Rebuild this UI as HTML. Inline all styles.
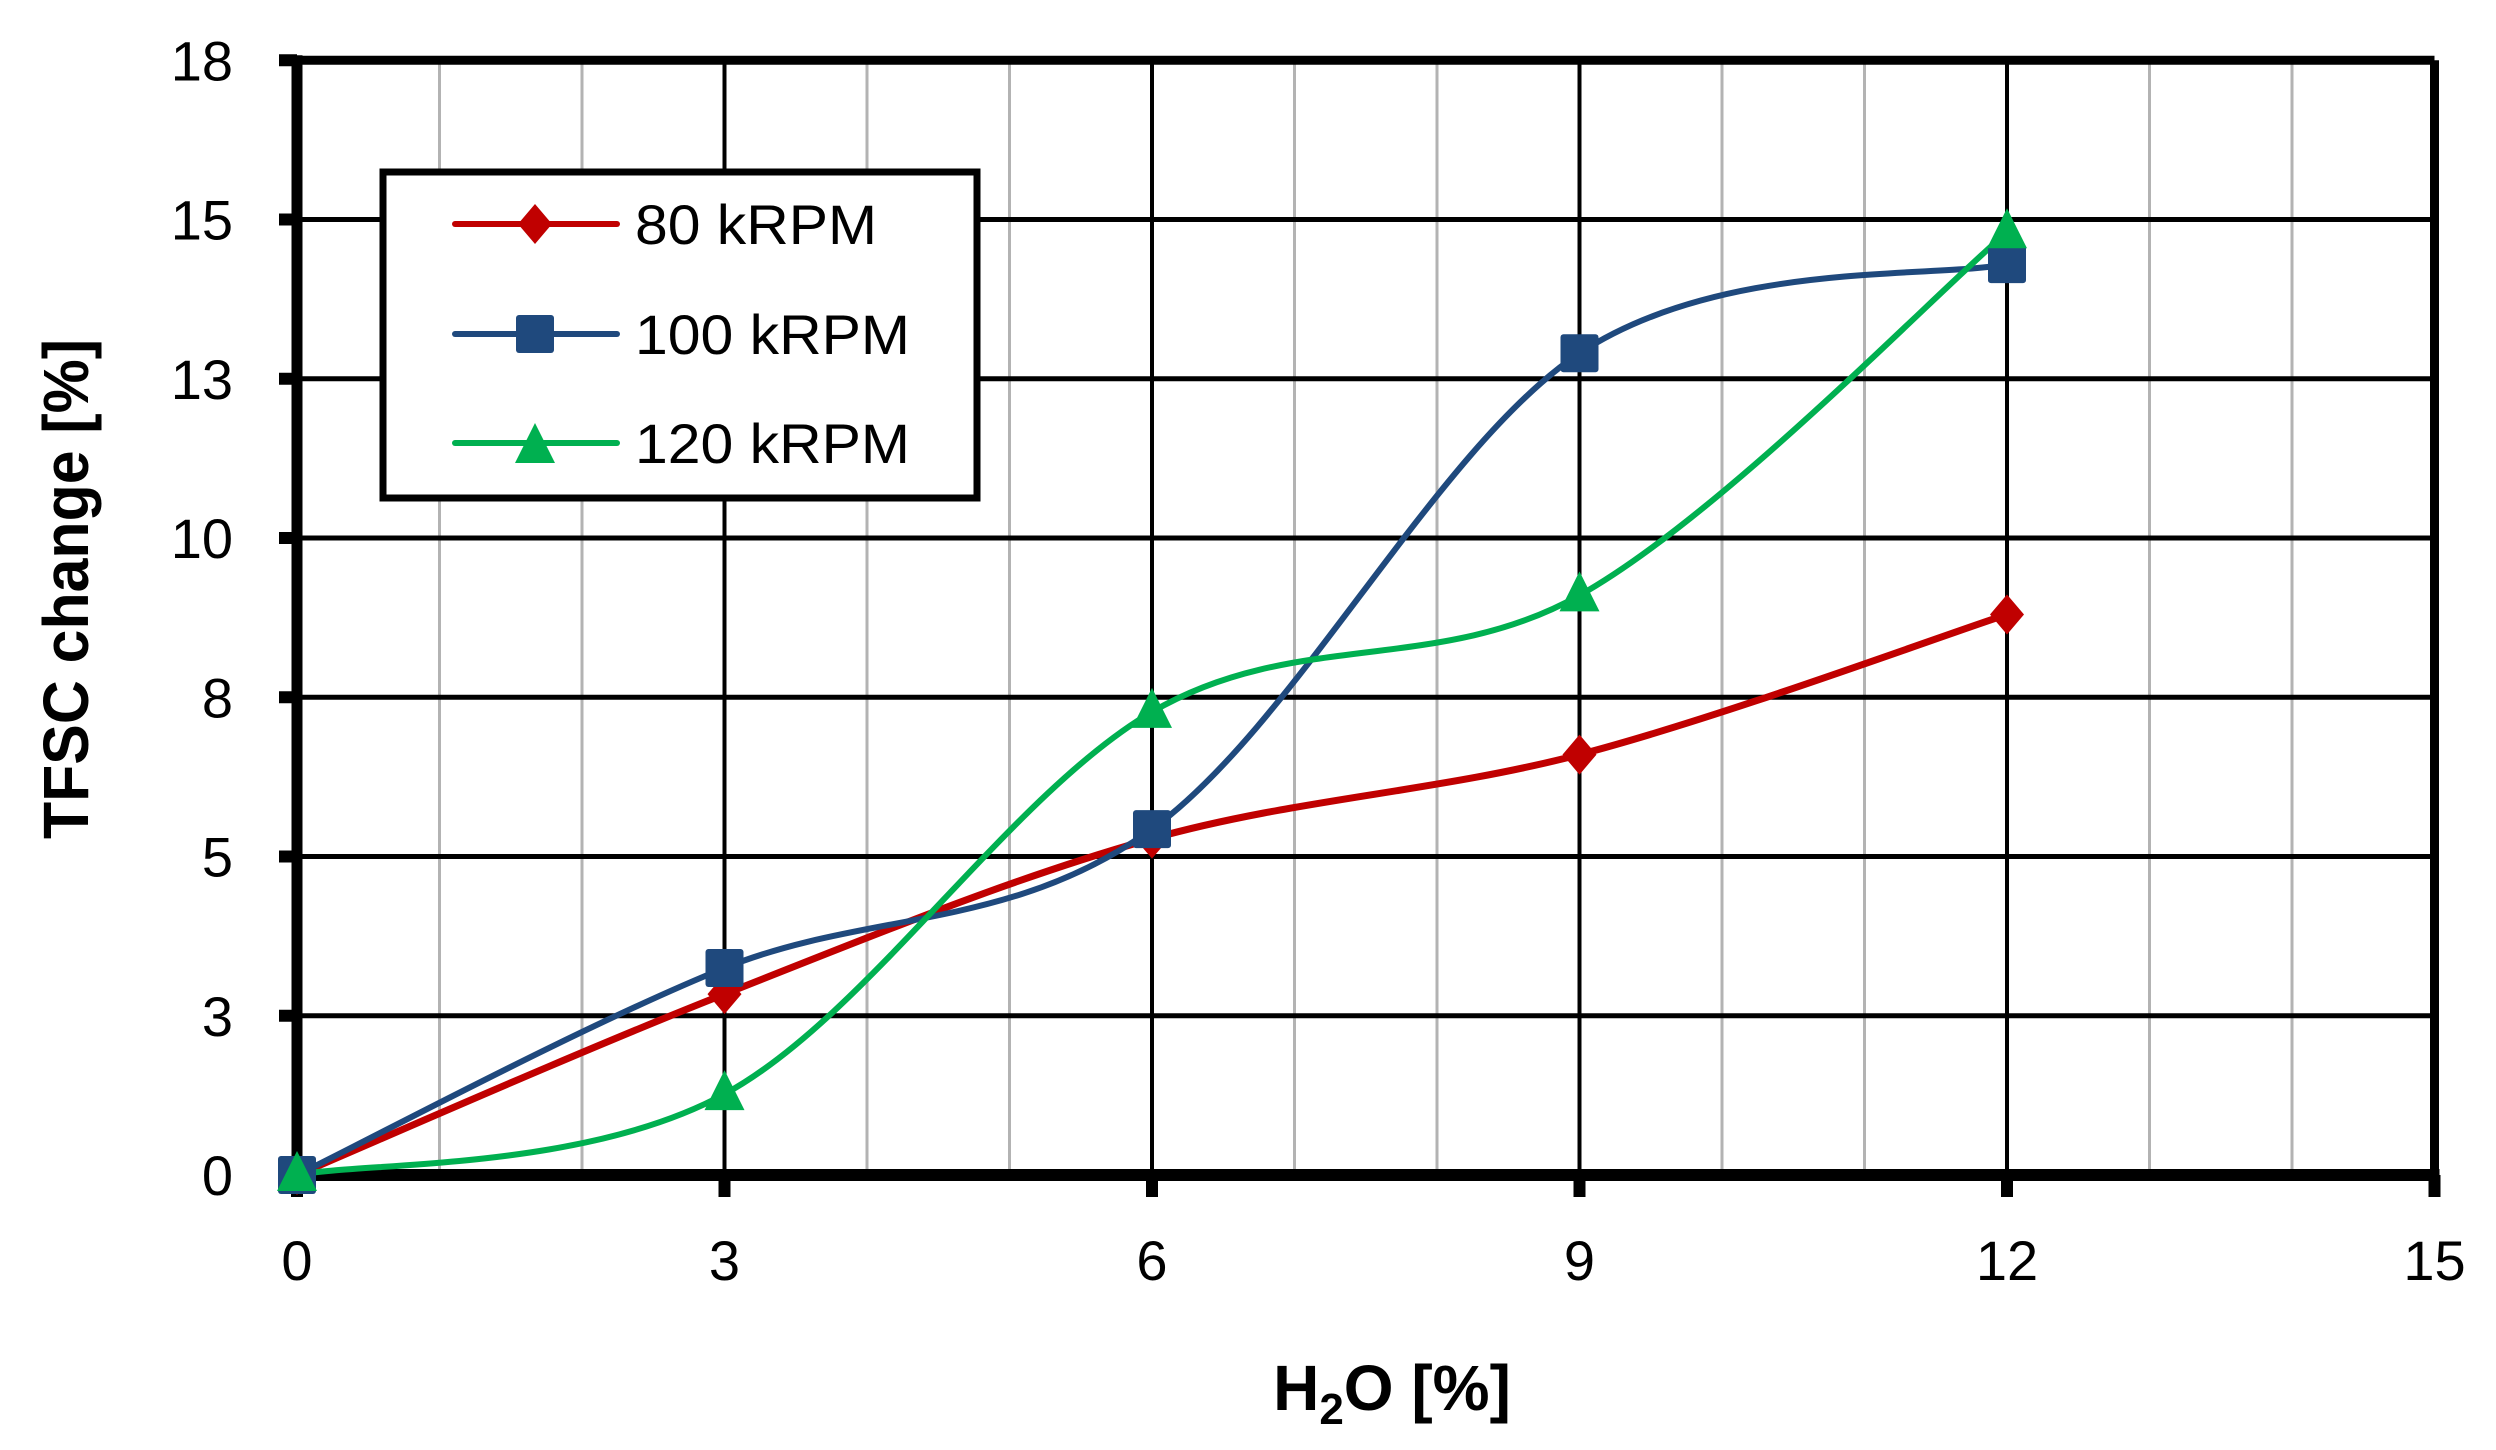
<!DOCTYPE html>
<html><head><meta charset="utf-8">
<style>
html,body{margin:0;padding:0;background:#fff;}
svg{display:block;}
text{font-family:"Liberation Sans",sans-serif;}
</style></head>
<body>
<svg id="s" width="2496" height="1450" viewBox="0 0 2496 1450" xmlns="http://www.w3.org/2000/svg">
<rect width="2496" height="1450" fill="#fff"/>
<g id="grid"></g>
<g id="series"></g>
<!-- legend -->
<rect x="383" y="172" width="594" height="326" fill="#fff" stroke="#000" stroke-width="7"/>
<line x1="455" y1="224" x2="617" y2="224" stroke="#C00000" stroke-width="6" stroke-linecap="round"/>
<polygon points="535,204 552,224 535,244 518,224" fill="#C00000"/>
<line x1="455" y1="334" x2="617" y2="334" stroke="#1F497D" stroke-width="6" stroke-linecap="round"/>
<rect x="516" y="315" width="38" height="38" rx="3" fill="#1F497D"/>
<line x1="455" y1="443" x2="617" y2="443" stroke="#00B050" stroke-width="6" stroke-linecap="round"/>
<polygon points="535,423 555,463 515,463" fill="#00B050"/>
<text x="635" y="244" font-size="56" textLength="242" lengthAdjust="spacingAndGlyphs">80 kRPM</text>
<text x="635" y="354" font-size="56" textLength="275" lengthAdjust="spacingAndGlyphs">100 kRPM</text>
<text x="635" y="463" font-size="56" textLength="275" lengthAdjust="spacingAndGlyphs">120 kRPM</text>
<!-- axis titles -->
<text x="1392" y="1410" font-size="64" font-weight="bold" text-anchor="middle">H<tspan font-size="44" dy="14">2</tspan><tspan dy="-14">O [%]</tspan></text>
<text transform="translate(88,589) rotate(-90)" font-size="64" font-weight="bold" text-anchor="middle" textLength="500" lengthAdjust="spacingAndGlyphs">TFSC change [%]</text>
</svg>
<script>
var NS="http://www.w3.org/2000/svg";
var X0=297,XU=142.5,Y0=1175,YU=63.7;
function X(v){return X0+v*XU;} function Y(v){return Y0-v*YU;}
var g=document.getElementById('grid'),s=document.getElementById('series');
function el(p,t,a){var e=document.createElementNS(NS,t);for(var k in a)e.setAttribute(k,a[k]);p.appendChild(e);return e;}
for(var i=1;i<15;i++){if(i%3)el(g,'line',{x1:X(i),y1:Y(17.5),x2:X(i),y2:Y0,stroke:'#b3b3b3','stroke-width':3});}
for(var i=3;i<15;i+=3)el(g,'line',{x1:X(i),y1:Y(17.5),x2:X(i),y2:Y0,stroke:'#000','stroke-width':4});
for(var j=1;j<7;j++)el(g,'line',{x1:X0,y1:Y(j*2.5),x2:X(15),y2:Y(j*2.5),stroke:'#000','stroke-width':5});
el(g,'line',{x1:X0,y1:Y(17.5),x2:X(15),y2:Y(17.5),stroke:'#000','stroke-width':9});
el(g,'line',{x1:X(15),y1:Y(17.5),x2:X(15),y2:Y0,stroke:'#000','stroke-width':9});
el(g,'line',{x1:X0,y1:Y(17.5)-5,x2:X0,y2:Y0+5,stroke:'#000','stroke-width':11});
el(g,'line',{x1:X0-5,y1:Y0,x2:X(15)+5,y2:Y0,stroke:'#000','stroke-width':12});
var yl=['0','3','5','8','10','13','15','18'];
for(var j=0;j<8;j++){var y=Y(j*2.5);el(g,'line',{x1:X0-18,y1:y,x2:X0,y2:y,stroke:'#000','stroke-width':12});
 var t=el(g,'text',{x:233,y:y+20,'font-size':56,'text-anchor':'end'});t.textContent=yl[j];}
for(var i=0;i<=15;i+=3){var x=X(i);el(g,'line',{x1:x,y1:Y0,x2:x,y2:Y0+22,stroke:'#000','stroke-width':12});
 var t=el(g,'text',{x:x,y:1280,'font-size':56,'text-anchor':'middle'});t.textContent=i;}
var data=[
 {c:'#C00000',m:'d',w:7,p:[[0,0],[3,2.84],[6,5.28],[9,6.6],[12,8.8]]},
 {c:'#1F497D',m:'s',w:6,p:[[0,0],[3,3.25],[6,5.43],[9,12.9],[12,14.3]]},
 {c:'#00B050',m:'t',w:6,p:[[0,0],[3,1.27],[6,7.27],[9,9.1],[12,14.8]]}];
data.forEach(function(d){
 var P=d.p.map(function(q){return [X(q[0]),Y(q[1])];});
 var str='M'+P[0][0]+','+P[0][1];
 for(var i=0;i<P.length-1;i++){var p0=P[Math.max(i-1,0)],p1=P[i],p2=P[i+1],p3=P[Math.min(i+2,P.length-1)];
  var c1=[p1[0]+(p2[0]-p0[0])/6,p1[1]+(p2[1]-p0[1])/6],c2=[p2[0]-(p3[0]-p1[0])/6,p2[1]-(p3[1]-p1[1])/6];
  str+=' C'+c1+' '+c2+' '+p2;}
 el(s,'path',{d:str,fill:'none',stroke:d.c,'stroke-width':d.w});
});
data.forEach(function(d){d.p.forEach(function(q){var x=X(q[0]),y=Y(q[1]);
 if(d.m=='d')el(s,'polygon',{points:(x)+','+(y-20)+' '+(x+17)+','+y+' '+x+','+(y+20)+' '+(x-17)+','+y,fill:d.c});
 if(d.m=='s')el(s,'rect',{x:x-19,y:y-19,width:38,height:38,rx:3,fill:d.c});
 if(d.m=='t')el(s,'polygon',{points:x+','+(y-24)+' '+(x+20)+','+(y+16)+' '+(x-20)+','+(y+16),fill:d.c});
});});
</script>
</body></html>
